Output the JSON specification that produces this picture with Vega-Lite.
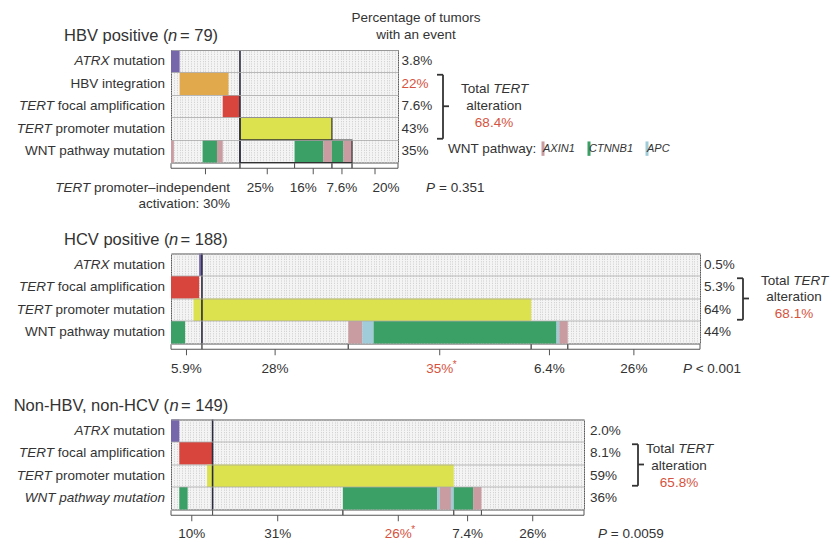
{
"$schema":"https://vega.github.io/schema/vega-lite/v6.json",
"background":"white",
"padding":{"left":13,"top":10,"right":2,"bottom":0},
"datasets":{
"segs_HBV":[
{"row":"ATRX mutation","start":0,"end":3,"event":"ATRX"},
{"row":"HBV integration","start":3,"end":20,"event":"HBV integration"},
{"row":"TERT focal amplification","start":18,"end":24,"event":"TERT focal amplification"},
{"row":"TERT promoter mutation","start":24,"end":56,"event":"TERT promoter"},
{"row":"WNT pathway mutation","start":0,"end":1,"event":"AXIN1"},
{"row":"WNT pathway mutation","start":11,"end":16,"event":"CTNNB1"},
{"row":"WNT pathway mutation","start":16,"end":18,"event":"AXIN1"},
{"row":"WNT pathway mutation","start":43,"end":53,"event":"CTNNB1"},
{"row":"WNT pathway mutation","start":53,"end":56,"event":"AXIN1"},
{"row":"WNT pathway mutation","start":56,"end":60,"event":"CTNNB1"},
{"row":"WNT pathway mutation","start":60,"end":63,"event":"AXIN1"}],
"outl_HBV":[
{"row":"TERT promoter mutation","start":24,"end":56},
{"row":"WNT pathway mutation","start":24,"end":63}],
"rows_HBV":[
{"row":"ATRX mutation","gene":"ATRX","rest":"mutation","pct":"3.8%"},
{"row":"HBV integration","gene":"","rest":"HBV integration","pct":"22%","hl":true},
{"row":"TERT focal amplification","gene":"TERT","rest":"focal amplification","pct":"7.6%"},
{"row":"TERT promoter mutation","gene":"TERT","rest":"promoter mutation","pct":"43%"},
{"row":"WNT pathway mutation","gene":"","rest":"WNT pathway mutation","pct":"35%"}],
"br_HBV":[
{"id":1,"start":0,"end":24,"label":"activation: 30%","lead":true},
{"id":2,"start":24,"end":43,"label":"25%"},
{"id":3,"start":43,"end":56,"label":"16%"},
{"id":4,"start":56,"end":63,"label":"7.6%"},
{"id":5,"start":63,"end":79,"label":"20%"}],
"info_HBV":[{"title":"HBV positive (","n":"n","rest":"= 79)","total":"68.4%","p":"= 0.351","at":24}],
"segs_HCV":[
{"row":"ATRX mutation","start":10,"end":11,"event":"ATRX"},
{"row":"TERT focal amplification","start":0,"end":10,"event":"TERT focal amplification"},
{"row":"TERT promoter mutation","start":8,"end":128,"event":"TERT promoter"},
{"row":"WNT pathway mutation","start":0,"end":5,"event":"CTNNB1"},
{"row":"WNT pathway mutation","start":63,"end":68,"event":"AXIN1"},
{"row":"WNT pathway mutation","start":68,"end":72,"event":"APC"},
{"row":"WNT pathway mutation","start":72,"end":137,"event":"CTNNB1"},
{"row":"WNT pathway mutation","start":137,"end":138,"event":"APC"},
{"row":"WNT pathway mutation","start":138,"end":141,"event":"AXIN1"}],
"rows_HCV":[
{"row":"ATRX mutation","gene":"ATRX","rest":"mutation","pct":"0.5%"},
{"row":"TERT focal amplification","gene":"TERT","rest":"focal amplification","pct":"5.3%"},
{"row":"TERT promoter mutation","gene":"TERT","rest":"promoter mutation","pct":"64%"},
{"row":"WNT pathway mutation","gene":"","rest":"WNT pathway mutation","pct":"44%"}],
"br_HCV":[
{"id":1,"start":0,"end":11,"label":"5.9%"},
{"id":2,"start":11,"end":63,"label":"28%"},
{"id":3,"start":63,"end":128,"label":"35%","hl":true,"star":true},
{"id":4,"start":128,"end":141,"label":"6.4%"},
{"id":5,"start":141,"end":188,"label":"26%"}],
"info_HCV":[{"title":"HCV positive (","n":"n","rest":"= 188)","total":"68.1%","p":"< 0.001","at":11}],
"segs_NON":[
{"row":"ATRX mutation","start":0,"end":3,"event":"ATRX"},
{"row":"TERT focal amplification","start":3,"end":15,"event":"TERT focal amplification"},
{"row":"TERT promoter mutation","start":13,"end":102,"event":"TERT promoter"},
{"row":"WNT pathway mutation","start":3,"end":6,"event":"CTNNB1"},
{"row":"WNT pathway mutation","start":62,"end":96,"event":"CTNNB1"},
{"row":"WNT pathway mutation","start":96,"end":97,"event":"APC"},
{"row":"WNT pathway mutation","start":97,"end":101,"event":"AXIN1"},
{"row":"WNT pathway mutation","start":101,"end":102,"event":"APC"},
{"row":"WNT pathway mutation","start":102,"end":109,"event":"CTNNB1"},
{"row":"WNT pathway mutation","start":109,"end":112,"event":"AXIN1"}],
"rows_NON":[
{"row":"ATRX mutation","gene":"ATRX","rest":"mutation","pct":"2.0%"},
{"row":"TERT focal amplification","gene":"TERT","rest":"focal amplification","pct":"8.1%"},
{"row":"TERT promoter mutation","gene":"TERT","rest":"promoter mutation","pct":"59%"},
{"row":"WNT pathway mutation","gene":"WNT pathway mutation","rest":"","pct":"36%"}],
"br_NON":[
{"id":1,"start":0,"end":15,"label":"10%"},
{"id":2,"start":15,"end":62,"label":"31%"},
{"id":3,"start":62,"end":102,"label":"26%","hl":true,"star":true},
{"id":4,"start":102,"end":112,"label":"7.4%"},
{"id":5,"start":112,"end":149,"label":"26%"}],
"info_NON":[{"title":"Non-HBV, non-HCV (","n":"n","rest":"= 149)","total":"65.8%","p":"= 0.0059","at":15}]
},
"bounds":"flush",
"spacing":90.5,
"resolve":{"scale":{"color":"independent","x":"independent","y":"independent"},"legend":{"color":"independent"}},
"vconcat":[
{
"width":227,"height":112.5,
"layer":[
{"data":{"name":"segs_HBV"},"mark":"rect","encoding":{
"x":{"field":"start","type":"quantitative","scale":{"domain":[0,79],"nice":false,"zero":false},"axis":{"title":null,"grid":true,"tickCount":79,"labels":false,"ticks":false,"domain":false}},
"x2":{"field":"end"},
"y":{"field":"row","type":"nominal","scale":{"domain":["ATRX mutation","HBV integration","TERT focal amplification","TERT promoter mutation","WNT pathway mutation"],"paddingInner":0,"paddingOuter":0},"axis":{"title":null,"grid":true,"bandPosition":0,"labels":false,"ticks":false,"domain":false}},
"color":{"field":"event","type":"nominal","scale":{"domain":["ATRX","HBV integration","TERT focal amplification","TERT promoter","AXIN1","CTNNB1","APC"],"range":["#7567a9","#e2a84c","#d8453d","#dce24d","#c99ca1","#3ba066","#a0cbd9"]},
"legend":{"title":"WNT pathway:","values":["AXIN1","CTNNB1","APC"],"orient":"none","legendX":277,"legendY":93,"direction":"horizontal","titleOrient":"left","titleFontSize":13.5,"titleFontWeight":"normal","titleFont":"Liberation Sans","titleColor":"#333","titlePadding":0.5,"labelFont":"Liberation Sans","labelFontSize":11,"labelFontStyle":"italic","labelColor":"#333","labelOffset":-5.5,"symbolType":"M-0.5,-2.4H0.5V2.4H-0.5Z","symbolSize":36,"symbolStrokeWidth":0,"symbolOpacity":1,"columnPadding":8}}}},
{"data":{"name":"outl_HBV"},"mark":{"type":"rect","filled":false,"stroke":"#333","strokeWidth":1.2},"encoding":{"x":{"field":"start","type":"quantitative"},"x2":{"field":"end"},"y":{"field":"row","type":"nominal"}}},
{"data":{"name":"info_HBV"},"mark":{"type":"rule","color":"#2a2a3f","strokeWidth":1.6},"encoding":{"x":{"field":"at","type":"quantitative"}}},
{"data":{"name":"rows_HBV"},"transform":[{"filter":"datum.rest != ''"}],"mark":{"type":"text","align":"right","dx":-6},"encoding":{"x":{"datum":0},"y":{"field":"row","type":"nominal"},"text":{"field":"rest"}}},
{"data":{"name":"rows_HBV"},"transform":[{"filter":"datum.rest == 'mutation'"}],"mark":{"type":"text","align":"right","fontStyle":"italic","dx":-61.5},"encoding":{"x":{"datum":0},"y":{"field":"row","type":"nominal"},"text":{"field":"gene"}}},
{"data":{"name":"rows_HBV"},"transform":[{"filter":"datum.rest == 'focal amplification'"}],"mark":{"type":"text","align":"right","fontStyle":"italic","dx":-117},"encoding":{"x":{"datum":0},"y":{"field":"row","type":"nominal"},"text":{"field":"gene"}}},
{"data":{"name":"rows_HBV"},"transform":[{"filter":"datum.rest == 'promoter mutation'"}],"mark":{"type":"text","align":"right","fontStyle":"italic","dx":-119.3},"encoding":{"x":{"datum":0},"y":{"field":"row","type":"nominal"},"text":{"field":"gene"}}},
{"data":{"name":"rows_HBV"},"mark":{"type":"text","align":"left","dx":3.5},"encoding":{"x":{"datum":79},"y":{"field":"row","type":"nominal"},"text":{"field":"pct"},"color":{"condition":{"test":"datum.hl","value":"#d6533e"},"value":"#333"}}},
{"data":{"name":"info_HBV"},"mark":{"type":"text","align":"left","fontSize":16.5,"dx":-107,"dy":-25},"encoding":{"x":{"datum":0},"y":{"datum":"ATRX mutation","type":"nominal"},"text":{"field":"title"}}},
{"data":{"name":"info_HBV"},"mark":{"type":"text","align":"left","fontSize":16.5,"fontStyle":"italic","dx":-3,"dy":-25},"encoding":{"x":{"datum":0},"y":{"datum":"ATRX mutation","type":"nominal"},"text":{"field":"n"}}},
{"data":{"name":"info_HBV"},"mark":{"type":"text","align":"left","fontSize":16.5,"dx":9,"dy":-25},"encoding":{"x":{"datum":0},"y":{"datum":"ATRX mutation","type":"nominal"},"text":{"field":"rest"}}},
{"data":{"name":"info_HBV"},"mark":{"type":"text","align":"center","baseline":"top","lineHeight":17,"dx":18,"dy":-50},"encoding":{"x":{"datum":79},"y":{"datum":"ATRX mutation","type":"nominal"},"text":{"value":["Percentage of tumors","with an event"]}}},
{"data":{"name":"info_HBV"},"mark":{"type":"rule","strokeWidth":1.8,"xOffset":45,"yOffset":-9,"y2Offset":10},"encoding":{"x":{"datum":79},"y":{"datum":"HBV integration","type":"nominal"},"y2":{"datum":"TERT promoter mutation"}}},
{"data":{"name":"info_HBV"},"mark":{"type":"rule","strokeWidth":1.8,"xOffset":39,"x2Offset":45,"yOffset":-9},"encoding":{"x":{"datum":79},"x2":{"datum":79},"y":{"datum":"HBV integration","type":"nominal"}}},
{"data":{"name":"info_HBV"},"mark":{"type":"rule","strokeWidth":1.8,"xOffset":39,"x2Offset":45,"yOffset":10},"encoding":{"x":{"datum":79},"x2":{"datum":79},"y":{"datum":"TERT promoter mutation","type":"nominal"}}},
{"data":{"name":"info_HBV"},"mark":{"type":"rule","strokeWidth":1.8,"xOffset":45,"x2Offset":51,"yOffset":0},"encoding":{"x":{"datum":79},"x2":{"datum":79},"y":{"datum":"TERT focal amplification","type":"nominal"}}},
{"data":{"name":"info_HBV"},"mark":{"type":"text","align":"right","dx":91.5,"dy":-17},"encoding":{"x":{"datum":79},"y":{"datum":"TERT focal amplification","type":"nominal"},"text":{"value":"Total"}}},
{"data":{"name":"info_HBV"},"mark":{"type":"text","align":"left","fontStyle":"italic","dx":95.25,"dy":-17},"encoding":{"x":{"datum":79},"y":{"datum":"TERT focal amplification","type":"nominal"},"text":{"value":"TERT"}}},
{"data":{"name":"info_HBV"},"mark":{"type":"text","align":"center","dx":96,"dy":0},"encoding":{"x":{"datum":79},"y":{"datum":"TERT focal amplification","type":"nominal"},"text":{"value":"alteration"}}},
{"data":{"name":"info_HBV"},"mark":{"type":"text","align":"center","dx":96,"dy":17,"color":"#d6533e"},"encoding":{"x":{"datum":79},"y":{"datum":"TERT focal amplification","type":"nominal"},"text":{"field":"total"}}},
{"data":{"name":"br_HBV"},"mark":{"type":"rule","strokeWidth":1,"color":"#555","yOffset":17},"encoding":{"x":{"field":"start","type":"quantitative"},"x2":{"field":"end"},"y":{"datum":"WNT pathway mutation","type":"nominal"}}},
{"data":{"name":"br_HBV"},"transform":[{"fold":["start","end"],"as":["k","v"]}],"mark":{"type":"point","shape":"M0,-1L0,1","filled":false,"size":25,"strokeWidth":1,"color":"#555","opacity":1,"yOffset":14.5},"encoding":{"x":{"field":"v","type":"quantitative"},"y":{"datum":"WNT pathway mutation","type":"nominal"}}},
{"data":{"name":"br_HBV"},"transform":[{"fold":["start","end"],"as":["k","v"]}],"mark":{"type":"point","shape":"M0,-1L0,1","filled":false,"size":36,"strokeWidth":1,"color":"#555","opacity":1,"yOffset":20},"encoding":{"x":{"aggregate":"mean","field":"v","type":"quantitative"},"detail":{"field":"id","type":"nominal"},"y":{"datum":"WNT pathway mutation","type":"nominal"}}},
{"data":{"name":"br_HBV"},"transform":[{"filter":"datum.id == 2"},{"fold":["start","end"],"as":["k","v"]}],"mark":{"type":"text","dy":37,"dx":-7},"encoding":{"x":{"aggregate":"mean","field":"v","type":"quantitative"},"y":{"datum":"WNT pathway mutation","type":"nominal"},"text":{"field":"label","type":"nominal"}}},
{"data":{"name":"br_HBV"},"transform":[{"filter":"datum.id == 3"},{"fold":["start","end"],"as":["k","v"]}],"mark":{"type":"text","dy":37,"dx":-10},"encoding":{"x":{"aggregate":"mean","field":"v","type":"quantitative"},"y":{"datum":"WNT pathway mutation","type":"nominal"},"text":{"field":"label","type":"nominal"}}},
{"data":{"name":"br_HBV"},"transform":[{"filter":"datum.id == 4"},{"fold":["start","end"],"as":["k","v"]}],"mark":{"type":"text","dy":37,"dx":0},"encoding":{"x":{"aggregate":"mean","field":"v","type":"quantitative"},"y":{"datum":"WNT pathway mutation","type":"nominal"},"text":{"field":"label","type":"nominal"}}},
{"data":{"name":"br_HBV"},"transform":[{"filter":"datum.id == 5"},{"fold":["start","end"],"as":["k","v"]}],"mark":{"type":"text","dy":37,"dx":11},"encoding":{"x":{"aggregate":"mean","field":"v","type":"quantitative"},"y":{"datum":"WNT pathway mutation","type":"nominal"},"text":{"field":"label","type":"nominal"}}},
{"data":{"name":"br_HBV"},"transform":[{"filter":"datum.lead"}],"mark":{"type":"text","align":"right","dx":-10,"dy":37},"encoding":{"x":{"field":"end","type":"quantitative"},"y":{"datum":"WNT pathway mutation","type":"nominal"},"text":{"value":"promoter–independent"}}},
{"data":{"name":"br_HBV"},"transform":[{"filter":"datum.lead"}],"mark":{"type":"text","align":"right","fontStyle":"italic","dx":-149.6,"dy":37},"encoding":{"x":{"field":"end","type":"quantitative"},"y":{"datum":"WNT pathway mutation","type":"nominal"},"text":{"value":"TERT"}}},
{"data":{"name":"br_HBV"},"transform":[{"filter":"datum.lead"}],"mark":{"type":"text","align":"right","dx":-10,"dy":53},"encoding":{"x":{"field":"end","type":"quantitative"},"y":{"datum":"WNT pathway mutation","type":"nominal"},"text":{"field":"label"}}},
{"data":{"name":"info_HBV"},"mark":{"type":"text","align":"left","fontStyle":"italic","dx":28,"dy":37},"encoding":{"x":{"datum":79},"y":{"datum":"WNT pathway mutation","type":"nominal"},"text":{"value":"P"}}},
{"data":{"name":"info_HBV"},"mark":{"type":"text","align":"left","dx":41,"dy":37},"encoding":{"x":{"datum":79},"y":{"datum":"WNT pathway mutation","type":"nominal"},"text":{"field":"p"}}}
]
},
{
"bounds":"flush",
"spacing":76,
"resolve":{"scale":{"color":"independent","x":"independent","y":"independent"},"legend":{"color":"independent"}},
"vconcat":[
{
"width":529,"height":90,
"layer":[
{"data":{"name":"segs_HCV"},"mark":"rect","encoding":{
"x":{"field":"start","type":"quantitative","scale":{"domain":[0,188],"nice":false,"zero":false},"axis":{"title":null,"grid":true,"tickCount":188,"labels":false,"ticks":false,"domain":false}},
"x2":{"field":"end"},
"y":{"field":"row","type":"nominal","scale":{"domain":["ATRX mutation","TERT focal amplification","TERT promoter mutation","WNT pathway mutation"],"paddingInner":0,"paddingOuter":0},"axis":{"title":null,"grid":true,"bandPosition":0,"labels":false,"ticks":false,"domain":false}},
"color":{"field":"event","type":"nominal","scale":{"domain":["ATRX","HBV integration","TERT focal amplification","TERT promoter","AXIN1","CTNNB1","APC"],"range":["#7567a9","#e2a84c","#d8453d","#dce24d","#c99ca1","#3ba066","#a0cbd9"]},"legend":null}}},
{"data":{"name":"info_HCV"},"mark":{"type":"rule","color":"#2a2a3f","strokeWidth":1.6},"encoding":{"x":{"field":"at","type":"quantitative"}}},
{"data":{"name":"rows_HCV"},"transform":[{"filter":"datum.rest != ''"}],"mark":{"type":"text","align":"right","dx":-6},"encoding":{"x":{"datum":0},"y":{"field":"row","type":"nominal"},"text":{"field":"rest"}}},
{"data":{"name":"rows_HCV"},"transform":[{"filter":"datum.rest == 'mutation'"}],"mark":{"type":"text","align":"right","fontStyle":"italic","dx":-61.5},"encoding":{"x":{"datum":0},"y":{"field":"row","type":"nominal"},"text":{"field":"gene"}}},
{"data":{"name":"rows_HCV"},"transform":[{"filter":"datum.rest == 'focal amplification'"}],"mark":{"type":"text","align":"right","fontStyle":"italic","dx":-117},"encoding":{"x":{"datum":0},"y":{"field":"row","type":"nominal"},"text":{"field":"gene"}}},
{"data":{"name":"rows_HCV"},"transform":[{"filter":"datum.rest == 'promoter mutation'"}],"mark":{"type":"text","align":"right","fontStyle":"italic","dx":-119.3},"encoding":{"x":{"datum":0},"y":{"field":"row","type":"nominal"},"text":{"field":"gene"}}},
{"data":{"name":"rows_HCV"},"mark":{"type":"text","align":"left","dx":4},"encoding":{"x":{"datum":188},"y":{"field":"row","type":"nominal"},"text":{"field":"pct"}}},
{"data":{"name":"info_HCV"},"mark":{"type":"text","align":"left","fontSize":16.5,"dx":-107,"dy":-25},"encoding":{"x":{"datum":0},"y":{"datum":"ATRX mutation","type":"nominal"},"text":{"field":"title"}}},
{"data":{"name":"info_HCV"},"mark":{"type":"text","align":"left","fontSize":16.5,"fontStyle":"italic","dx":-2.1,"dy":-25},"encoding":{"x":{"datum":0},"y":{"datum":"ATRX mutation","type":"nominal"},"text":{"field":"n"}}},
{"data":{"name":"info_HCV"},"mark":{"type":"text","align":"left","fontSize":16.5,"dx":9.5,"dy":-25},"encoding":{"x":{"datum":0},"y":{"datum":"ATRX mutation","type":"nominal"},"text":{"field":"rest"}}},
{"data":{"name":"info_HCV"},"mark":{"type":"rule","strokeWidth":1.8,"xOffset":43,"yOffset":-9,"y2Offset":10},"encoding":{"x":{"datum":188},"y":{"datum":"TERT focal amplification","type":"nominal"},"y2":{"datum":"TERT promoter mutation"}}},
{"data":{"name":"info_HCV"},"mark":{"type":"rule","strokeWidth":1.8,"xOffset":37,"x2Offset":43,"yOffset":-9},"encoding":{"x":{"datum":188},"x2":{"datum":188},"y":{"datum":"TERT focal amplification","type":"nominal"}}},
{"data":{"name":"info_HCV"},"mark":{"type":"rule","strokeWidth":1.8,"xOffset":37,"x2Offset":43,"yOffset":10},"encoding":{"x":{"datum":188},"x2":{"datum":188},"y":{"datum":"TERT promoter mutation","type":"nominal"}}},
{"data":{"name":"info_HCV"},"mark":{"type":"rule","strokeWidth":1.8,"xOffset":43,"x2Offset":49,"yOffset":11.25},"encoding":{"x":{"datum":188},"x2":{"datum":188},"y":{"datum":"TERT focal amplification","type":"nominal"}}},
{"data":{"name":"info_HCV"},"mark":{"type":"text","align":"right","dx":89.5,"dy":-6},"encoding":{"x":{"datum":188},"y":{"datum":"TERT focal amplification","type":"nominal"},"text":{"value":"Total"}}},
{"data":{"name":"info_HCV"},"mark":{"type":"text","align":"left","fontStyle":"italic","dx":93.25,"dy":-6},"encoding":{"x":{"datum":188},"y":{"datum":"TERT focal amplification","type":"nominal"},"text":{"value":"TERT"}}},
{"data":{"name":"info_HCV"},"mark":{"type":"text","align":"center","dx":94,"dy":10},"encoding":{"x":{"datum":188},"y":{"datum":"TERT focal amplification","type":"nominal"},"text":{"value":"alteration"}}},
{"data":{"name":"info_HCV"},"mark":{"type":"text","align":"center","dx":94,"dy":27,"color":"#d6533e"},"encoding":{"x":{"datum":188},"y":{"datum":"TERT focal amplification","type":"nominal"},"text":{"field":"total"}}},
{"data":{"name":"br_HCV"},"mark":{"type":"rule","strokeWidth":1,"color":"#555","yOffset":17},"encoding":{"x":{"field":"start","type":"quantitative"},"x2":{"field":"end"},"y":{"datum":"WNT pathway mutation","type":"nominal"}}},
{"data":{"name":"br_HCV"},"transform":[{"fold":["start","end"],"as":["k","v"]}],"mark":{"type":"point","shape":"M0,-1L0,1","filled":false,"size":25,"strokeWidth":1,"color":"#555","opacity":1,"yOffset":14.5},"encoding":{"x":{"field":"v","type":"quantitative"},"y":{"datum":"WNT pathway mutation","type":"nominal"}}},
{"data":{"name":"br_HCV"},"transform":[{"fold":["start","end"],"as":["k","v"]}],"mark":{"type":"point","shape":"M0,-1L0,1","filled":false,"size":36,"strokeWidth":1,"color":"#555","opacity":1,"yOffset":20},"encoding":{"x":{"aggregate":"mean","field":"v","type":"quantitative"},"detail":{"field":"id","type":"nominal"},"y":{"datum":"WNT pathway mutation","type":"nominal"}}},
{"data":{"name":"br_HCV"},"transform":[{"fold":["start","end"],"as":["k","v"]}],"mark":{"type":"text","dy":37},"encoding":{"x":{"aggregate":"mean","field":"v","type":"quantitative"},"y":{"datum":"WNT pathway mutation","type":"nominal"},"text":{"field":"label","type":"nominal"},"detail":[{"field":"id","type":"nominal"},{"field":"hl","type":"nominal"}],"color":{"condition":{"test":"datum.hl","value":"#d6533e"},"value":"#333"}}},
{"data":{"name":"br_HCV"},"transform":[{"filter":"datum.star"},{"fold":["start","end"],"as":["k","v"]}],"mark":{"type":"text","dx":15,"dy":33,"fontSize":10,"color":"#d6533e"},"encoding":{"x":{"aggregate":"mean","field":"v","type":"quantitative"},"y":{"datum":"WNT pathway mutation","type":"nominal"},"detail":{"field":"id","type":"nominal"},"text":{"value":"*"}}},
{"data":{"name":"info_HCV"},"mark":{"type":"text","align":"left","fontStyle":"italic","dx":-17,"dy":37},"encoding":{"x":{"datum":188},"y":{"datum":"WNT pathway mutation","type":"nominal"},"text":{"value":"P"}}},
{"data":{"name":"info_HCV"},"mark":{"type":"text","align":"left","dx":-4.3,"dy":37},"encoding":{"x":{"datum":188},"y":{"datum":"WNT pathway mutation","type":"nominal"},"text":{"field":"p"}}}
]
},
{
"width":413,"height":90,
"layer":[
{"data":{"name":"segs_NON"},"mark":"rect","encoding":{
"x":{"field":"start","type":"quantitative","scale":{"domain":[0,149],"nice":false,"zero":false},"axis":{"title":null,"grid":true,"tickCount":149,"labels":false,"ticks":false,"domain":false}},
"x2":{"field":"end"},
"y":{"field":"row","type":"nominal","scale":{"domain":["ATRX mutation","TERT focal amplification","TERT promoter mutation","WNT pathway mutation"],"paddingInner":0,"paddingOuter":0},"axis":{"title":null,"grid":true,"bandPosition":0,"labels":false,"ticks":false,"domain":false}},
"color":{"field":"event","type":"nominal","scale":{"domain":["ATRX","HBV integration","TERT focal amplification","TERT promoter","AXIN1","CTNNB1","APC"],"range":["#7567a9","#e2a84c","#d8453d","#dce24d","#c99ca1","#3ba066","#a0cbd9"]},"legend":null}}},
{"data":{"name":"info_NON"},"mark":{"type":"rule","color":"#2a2a3f","strokeWidth":1.6},"encoding":{"x":{"field":"at","type":"quantitative"}}},
{"data":{"name":"rows_NON"},"transform":[{"filter":"datum.rest != ''"}],"mark":{"type":"text","align":"right","dx":-6},"encoding":{"x":{"datum":0},"y":{"field":"row","type":"nominal"},"text":{"field":"rest"}}},
{"data":{"name":"rows_NON"},"transform":[{"filter":"datum.rest == 'mutation'"}],"mark":{"type":"text","align":"right","fontStyle":"italic","dx":-61.5},"encoding":{"x":{"datum":0},"y":{"field":"row","type":"nominal"},"text":{"field":"gene"}}},
{"data":{"name":"rows_NON"},"transform":[{"filter":"datum.rest == 'focal amplification'"}],"mark":{"type":"text","align":"right","fontStyle":"italic","dx":-117},"encoding":{"x":{"datum":0},"y":{"field":"row","type":"nominal"},"text":{"field":"gene"}}},
{"data":{"name":"rows_NON"},"transform":[{"filter":"datum.rest == 'promoter mutation'"}],"mark":{"type":"text","align":"right","fontStyle":"italic","dx":-119.3},"encoding":{"x":{"datum":0},"y":{"field":"row","type":"nominal"},"text":{"field":"gene"}}},
{"data":{"name":"rows_NON"},"transform":[{"filter":"datum.rest == ''"}],"mark":{"type":"text","align":"right","fontStyle":"italic","dx":-6},"encoding":{"x":{"datum":0},"y":{"field":"row","type":"nominal"},"text":{"field":"gene"}}},
{"data":{"name":"rows_NON"},"mark":{"type":"text","align":"left","dx":6},"encoding":{"x":{"datum":149},"y":{"field":"row","type":"nominal"},"text":{"field":"pct"}}},
{"data":{"name":"info_NON"},"mark":{"type":"text","align":"left","fontSize":16.5,"dx":-157.3,"dy":-25},"encoding":{"x":{"datum":0},"y":{"datum":"ATRX mutation","type":"nominal"},"text":{"field":"title"}}},
{"data":{"name":"info_NON"},"mark":{"type":"text","align":"left","fontSize":16.5,"fontStyle":"italic","dx":-1.5,"dy":-25},"encoding":{"x":{"datum":0},"y":{"datum":"ATRX mutation","type":"nominal"},"text":{"field":"n"}}},
{"data":{"name":"info_NON"},"mark":{"type":"text","align":"left","fontSize":16.5,"dx":10,"dy":-25},"encoding":{"x":{"datum":0},"y":{"datum":"ATRX mutation","type":"nominal"},"text":{"field":"rest"}}},
{"data":{"name":"info_NON"},"mark":{"type":"rule","strokeWidth":1.8,"xOffset":54,"yOffset":-9,"y2Offset":10},"encoding":{"x":{"datum":149},"y":{"datum":"TERT focal amplification","type":"nominal"},"y2":{"datum":"TERT promoter mutation"}}},
{"data":{"name":"info_NON"},"mark":{"type":"rule","strokeWidth":1.8,"xOffset":48,"x2Offset":54,"yOffset":-9},"encoding":{"x":{"datum":149},"x2":{"datum":149},"y":{"datum":"TERT focal amplification","type":"nominal"}}},
{"data":{"name":"info_NON"},"mark":{"type":"rule","strokeWidth":1.8,"xOffset":48,"x2Offset":54,"yOffset":10},"encoding":{"x":{"datum":149},"x2":{"datum":149},"y":{"datum":"TERT promoter mutation","type":"nominal"}}},
{"data":{"name":"info_NON"},"mark":{"type":"rule","strokeWidth":1.8,"xOffset":54,"x2Offset":60,"yOffset":11.25},"encoding":{"x":{"datum":149},"x2":{"datum":149},"y":{"datum":"TERT focal amplification","type":"nominal"}}},
{"data":{"name":"info_NON"},"mark":{"type":"text","align":"right","dx":90.5,"dy":-4},"encoding":{"x":{"datum":149},"y":{"datum":"TERT focal amplification","type":"nominal"},"text":{"value":"Total"}}},
{"data":{"name":"info_NON"},"mark":{"type":"text","align":"left","fontStyle":"italic","dx":94.25,"dy":-4},"encoding":{"x":{"datum":149},"y":{"datum":"TERT focal amplification","type":"nominal"},"text":{"value":"TERT"}}},
{"data":{"name":"info_NON"},"mark":{"type":"text","align":"center","dx":95,"dy":13},"encoding":{"x":{"datum":149},"y":{"datum":"TERT focal amplification","type":"nominal"},"text":{"value":"alteration"}}},
{"data":{"name":"info_NON"},"mark":{"type":"text","align":"center","dx":95,"dy":30,"color":"#d6533e"},"encoding":{"x":{"datum":149},"y":{"datum":"TERT focal amplification","type":"nominal"},"text":{"field":"total"}}},
{"data":{"name":"br_NON"},"mark":{"type":"rule","strokeWidth":1,"color":"#555","yOffset":17},"encoding":{"x":{"field":"start","type":"quantitative"},"x2":{"field":"end"},"y":{"datum":"WNT pathway mutation","type":"nominal"}}},
{"data":{"name":"br_NON"},"transform":[{"fold":["start","end"],"as":["k","v"]}],"mark":{"type":"point","shape":"M0,-1L0,1","filled":false,"size":25,"strokeWidth":1,"color":"#555","opacity":1,"yOffset":14.5},"encoding":{"x":{"field":"v","type":"quantitative"},"y":{"datum":"WNT pathway mutation","type":"nominal"}}},
{"data":{"name":"br_NON"},"transform":[{"fold":["start","end"],"as":["k","v"]}],"mark":{"type":"point","shape":"M0,-1L0,1","filled":false,"size":36,"strokeWidth":1,"color":"#555","opacity":1,"yOffset":20},"encoding":{"x":{"aggregate":"mean","field":"v","type":"quantitative"},"detail":{"field":"id","type":"nominal"},"y":{"datum":"WNT pathway mutation","type":"nominal"}}},
{"data":{"name":"br_NON"},"transform":[{"fold":["start","end"],"as":["k","v"]}],"mark":{"type":"text","dy":36},"encoding":{"x":{"aggregate":"mean","field":"v","type":"quantitative"},"y":{"datum":"WNT pathway mutation","type":"nominal"},"text":{"field":"label","type":"nominal"},"detail":[{"field":"id","type":"nominal"},{"field":"hl","type":"nominal"}],"color":{"condition":{"test":"datum.hl","value":"#d6533e"},"value":"#333"}}},
{"data":{"name":"br_NON"},"transform":[{"filter":"datum.star"},{"fold":["start","end"],"as":["k","v"]}],"mark":{"type":"text","dx":15,"dy":32,"fontSize":10,"color":"#d6533e"},"encoding":{"x":{"aggregate":"mean","field":"v","type":"quantitative"},"y":{"datum":"WNT pathway mutation","type":"nominal"},"detail":{"field":"id","type":"nominal"},"text":{"value":"*"}}},
{"data":{"name":"info_NON"},"mark":{"type":"text","align":"left","fontStyle":"italic","dx":14,"dy":36},"encoding":{"x":{"datum":149},"y":{"datum":"WNT pathway mutation","type":"nominal"},"text":{"value":"P"}}},
{"data":{"name":"info_NON"},"mark":{"type":"text","align":"left","dx":26.75,"dy":36},"encoding":{"x":{"datum":149},"y":{"datum":"WNT pathway mutation","type":"nominal"},"text":{"field":"p"}}}
]
}
]
}
],
"config":{
"font":"Liberation Sans",
"view":{"fill":"#f4f4f4","stroke":"#555","strokeWidth":1},
"axisX":{"gridColor":"#c4c4c4","gridWidth":0.7,"gridDash":[1.2,1.2]},
"axisY":{"gridColor":"#aaaaaa","gridWidth":0.8},
"text":{"font":"Liberation Sans","fontSize":13.5,"color":"#333","baseline":"middle"},
"rule":{"color":"#333"}
}
}
